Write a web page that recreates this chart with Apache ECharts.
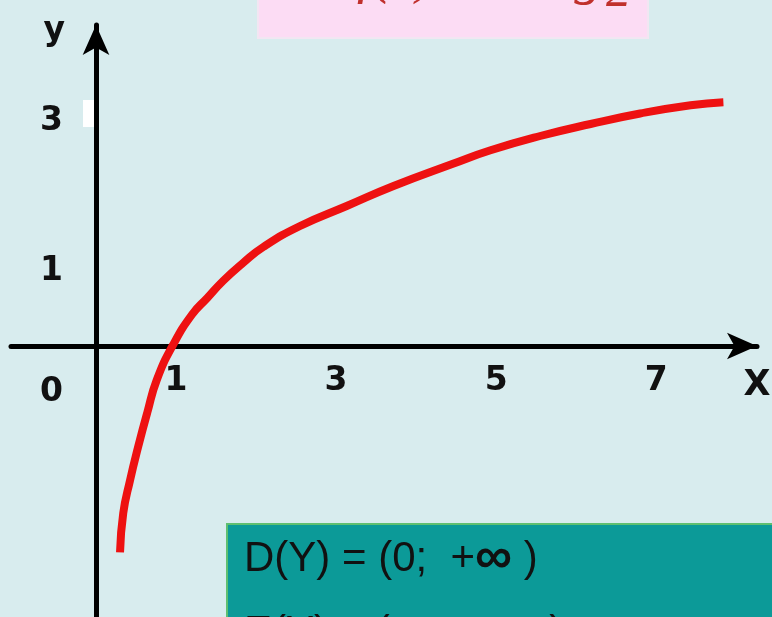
<!DOCTYPE html>
<html>
<head>
<meta charset="utf-8">
<title>log2 x</title>
<script src="https://cdn.jsdelivr.net/npm/echarts@6/dist/echarts.min.js"></script>
<style>
  html, body { margin: 0; padding: 0; background: #d8ecee; }
  #chart { width: 772px; height: 617px; }
</style>
</head>
<body>
<div id="chart"></div>
<script>
// values
const curveX = [0.3, 0.34, 0.425, 0.525, 0.64, 0.76, 0.96, 1.2, 1.39, 1.59, 1.84, 2.09, 2.55, 3.14, 3.71, 4.46, 4.93, 5.55, 6.18, 6.8, 7.43, 7.84]
const curveY = [-2.75, -2.23, -1.79, -1.35, -0.89, -0.45, 0.01, 0.42, 0.64, 0.87, 1.11, 1.32, 1.6, 1.87, 2.13, 2.43, 2.61, 2.8, 2.96, 3.1, 3.21, 3.25]
const xTicks = [1, 3, 5, 7]
const yTicks = [1, 3]
const xName = 'X'
const yName = 'y'
const originLabel = '0'
const titleParts = ['f(x)', '= log', '2']
const domainLine = ['D(Y) = (0;  +', '\u221E', ' )']
const rangeLine = ['E(Y) = (-', '\u221E', ';  +', '\u221E', ' )']

const chart = echarts.init(document.getElementById('chart'))

const labelFont = {
  fontFamily: 'DejaVu Sans',
  fontWeight: 'bold',
  fontSize: 33,
  color: '#111'
}
const axisLine = {
  onZero: false,
  symbol: ['none', 'arrow'],
  symbolSize: [20, 30],
  lineStyle: { color: '#000', width: 5 }
}

// rich text for the boxed lines, infinity drawn larger
function richLine(parts) {
  return parts.map(p => p === '\u221E' ? '{i|' + p + '}' : '{n|' + p + '}').join('')
}
const boxRich = {
  n: { font: '42px "Liberation Sans"', fill: '#111' },
  i: { font: 'bold 52px "Liberation Sans"', fill: '#111' }
}
const titleFont = 'italic 56px "Liberation Serif"'

chart.setOption({
  backgroundColor: '#d8ecee',
  animation: false,
  grid: { left: 11, right: 15, top: 25, bottom: 0, containLabel: false, outerBoundsMode: 'none' },
  xAxis: {
    type: 'value',
    position: 'bottom',
    offset: -271, // axis sits at y = 0
    min: -1.0625,
    max: 8.26,
    name: xName,
    nameLocation: 'end',
    nameGap: 0,
    nameTextStyle: Object.assign({}, labelFont, {
      fontSize: 35,
      align: 'center',
      verticalAlign: 'top',
      padding: [22, 0, 0, 0]
    }),
    axisLine: axisLine,
    axisTick: { show: false },
    splitLine: { show: false },
    axisLabel: Object.assign({}, labelFont, {
      customValues: xTicks,
      margin: 19
    })
  },
  yAxis: {
    type: 'value',
    position: 'left',
    offset: -85, // axis sits at x = 0
    min: -3.613,
    max: 4.28,
    name: yName,
    nameLocation: 'end',
    nameGap: 10,
    nameTextStyle: Object.assign({}, labelFont, {
      align: 'right',
      verticalAlign: 'top',
      padding: [0, 31, 0, 0]
    }),
    axisLine: axisLine,
    axisTick: { show: false },
    splitLine: { show: false },
    axisLabel: Object.assign({}, labelFont, {
      customValues: yTicks,
      margin: 33
    })
  },
  series: [{
    type: 'line',
    data: curveX.map((x, i) => [x, curveY[i]]),
    smooth: 0.5,
    showSymbol: false,
    symbol: 'none',
    lineStyle: { color: '#ee1111', width: 8 }
  }],
  graphic: [
    // origin label
    {
      type: 'text', left: 40, top: 376,
      style: { text: originLabel, font: 'bold 33px "DejaVu Sans"', fill: '#111' }
    },
    // white mark next to 3
    { type: 'rect', shape: { x: 83, y: 100, width: 13, height: 27 }, style: { fill: '#fff' } },
    // pink title box, cut at the top: only the bottoms of the letters show
    {
      type: 'group', z: 100,
      children: [
        { type: 'rect', shape: { x: 258, y: -5, width: 390, height: 43 },
          style: { fill: '#fcdcf4', stroke: '#f2e6f2', lineWidth: 2 } },
        { type: 'text', x: 357, y: 5,
          style: { text: titleParts[0], font: titleFont, fill: '#c0302c', verticalAlign: 'bottom' } },
        { type: 'text', x: 479, y: 6,
          style: { text: titleParts[1], font: titleFont, fill: '#c0302c', verticalAlign: 'bottom' } },
        { type: 'text', x: 606, y: 18,
          style: { text: titleParts[2], font: 'italic 50px "Liberation Serif"', fill: '#c0302c', verticalAlign: 'bottom' } }
      ]
    },
    // teal box with domain text
    {
      type: 'group', z: 100,
      children: [
        { type: 'rect', shape: { x: 227, y: 524, width: 560, height: 110 },
          style: { fill: '#0c9a98', stroke: '#5fbf70', lineWidth: 2 } },
        { type: 'text', x: 244, y: 533,
          style: { text: richLine(domainLine), rich: boxRich } },
        { type: 'text', x: 244, y: 607,
          style: { text: richLine(rangeLine), rich: boxRich } }
      ]
    }
  ]
})
</script>
</body>
</html>
